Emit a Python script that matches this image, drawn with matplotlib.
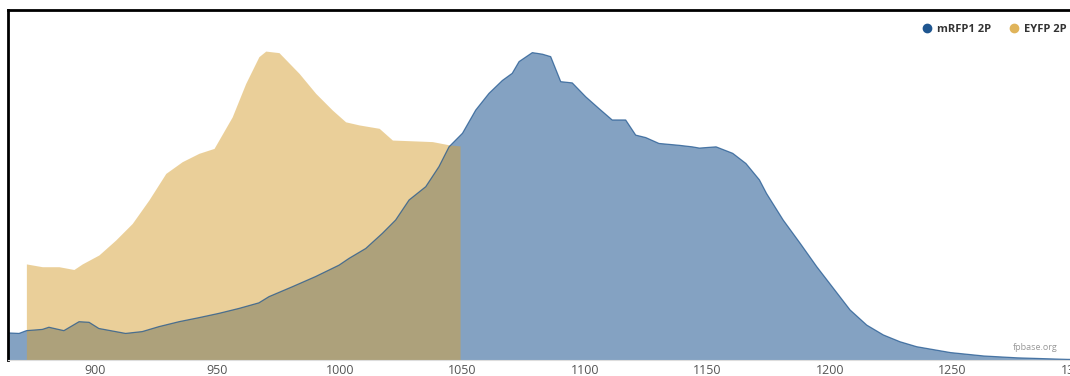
import matplotlib.pyplot as plt
from matplotlib.lines import Line2D

plt.rcParams['font.family'] = ['Open Sans', 'DejaVu Sans']

# mRFP1 2P (normalised two-photon cross section)
mrfp_nm = [863.6, 869, 872, 878.5, 881.2, 887.3, 893.5, 897.6, 901.6, 912.5,
           919.3, 926.1, 934.3, 942.4, 950.6, 958.8, 966.9, 971, 980.5, 990,
           999.6, 1003.7, 1010.5, 1017.3, 1022.7, 1028.2, 1035, 1040.4, 1044.5,
           1050, 1055.4, 1060.8, 1066.3, 1070.3, 1073.1, 1078.5, 1082.6, 1086,
           1090.1, 1094.8, 1100.3, 1105.7, 1111.1, 1116.6, 1120.7, 1124.8,
           1130.2, 1138.4, 1143.8, 1146.7, 1153.5, 1160.3, 1165.7, 1171.2,
           1174.1, 1180.9, 1187.8, 1194.6, 1201.4, 1208.2, 1215, 1221.8,
           1228.6, 1235.4, 1249.2, 1262.8, 1276.4, 1296.8, 1310]
mrfp_val = [0.088, 0.086, 0.095, 0.099, 0.106, 0.095, 0.124, 0.122, 0.102, 0.086,
            0.092, 0.108, 0.124, 0.137, 0.151, 0.167, 0.185, 0.205, 0.237, 0.270,
            0.307, 0.329, 0.361, 0.410, 0.453, 0.518, 0.561, 0.626, 0.690,
            0.734, 0.809, 0.863, 0.905, 0.928, 0.966, 0.995, 0.990, 0.982,
            0.901, 0.897, 0.852, 0.814, 0.777, 0.777, 0.728, 0.720,
            0.701, 0.695, 0.690, 0.686, 0.690, 0.669, 0.636, 0.583,
            0.539, 0.453, 0.378, 0.302, 0.232, 0.162, 0.113, 0.081,
            0.059, 0.043, 0.024, 0.013, 0.007, 0.002, 0.001]

# EYFP 2P
eyfp_nm = [872, 878.5, 885.3, 891.4, 894.8, 901.6, 908.4, 915.2, 922, 928.9,
           935.6, 942.4, 948.6, 956, 961.5, 966.9, 969.7, 975.1, 983.3, 990.1,
           996.9, 1002.3, 1007.8, 1016, 1021.4, 1028.2, 1037.7, 1044.9, 1049]
eyfp_val = [0.311, 0.302, 0.302, 0.293, 0.311, 0.340, 0.388, 0.442, 0.518, 0.604,
            0.642, 0.669, 0.685, 0.787, 0.895, 0.982, 1.0, 0.995, 0.928, 0.863,
            0.809, 0.771, 0.761, 0.750, 0.712, 0.710, 0.707, 0.696, 0.693]

xticks = [900, 950, 1000, 1050, 1100, 1150, 1200, 1250, 1300]

blue = '#1f5690'
tan = '#d7a135'

fig = plt.figure(figsize=(10.7, 3.76), dpi=100)
# axes runs past the right edge, like the cropped screenshot
ax = fig.add_axes([8 / 1070, 16 / 376, 1092 / 1070, 350 / 376])

ax.fill_between(mrfp_nm, 0, mrfp_val, color=blue, alpha=0.55, lw=0)
ax.plot(mrfp_nm, mrfp_val, color=blue, lw=0.9, alpha=0.75)
ax.fill_between(eyfp_nm, 0, eyfp_val, color=tan, alpha=0.5, lw=0)

ax.set_xlim(864.5, 1310.2)
ax.set_ylim(0, 1.133)
ax.set_xticks(xticks)
ax.set_xticklabels([str(t) for t in xticks])
ax.set_yticks([])
ax.tick_params(axis='x', length=0, pad=3, labelsize=9, labelcolor='#555555')

ax.spines['right'].set_visible(False)
ax.spines['left'].set_linewidth(2)
ax.spines['top'].set_linewidth(2)
ax.spines['bottom'].set_color('#dddddd')

handles = [Line2D([], [], ls='', marker='o', ms=6, color=blue),
           Line2D([], [], ls='', marker='o', ms=6, color='#e0b45a')]
fig.legend(handles, ['mRFP1 2P', 'EYFP 2P'], ncol=2, frameon=False,
           loc='upper right', bbox_to_anchor=(1077 / 1070, 362 / 376),
           prop={'weight': 'bold', 'size': 8}, labelcolor='#333333',
           handletextpad=0.4, columnspacing=1.6, handlelength=1)

fig.text(1058 / 1070, 29 / 376, 'fpbase.org', ha='right', va='center',
         fontsize=6.5, color='#999999')

fig.savefig('out.png', dpi=100)
